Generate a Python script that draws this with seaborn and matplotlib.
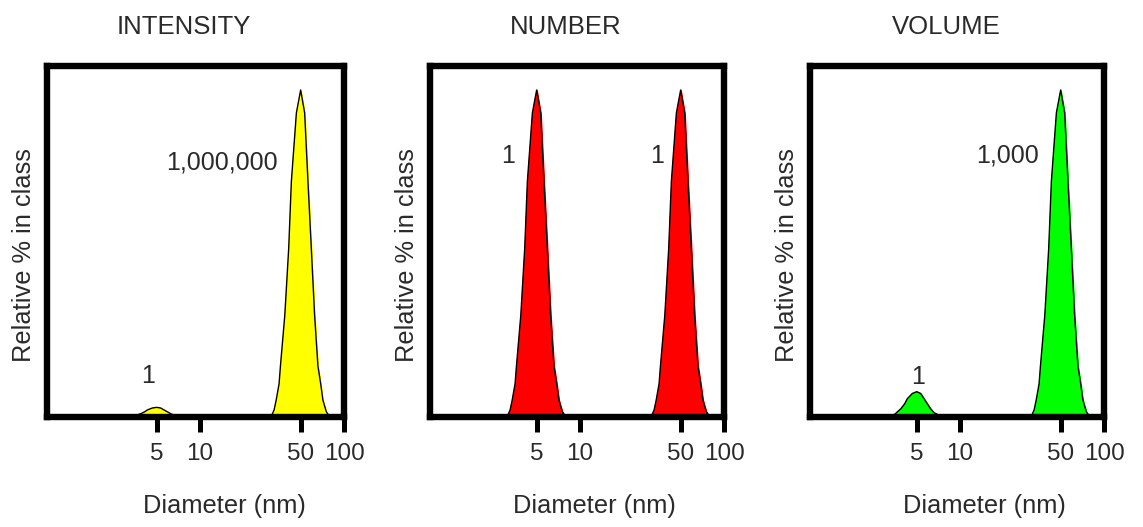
import matplotlib
matplotlib.use("Agg")
import matplotlib.pyplot as plt
import seaborn as sns
import pandas as pd

# size classes (nm), one set round 5 nm and one round 50 nm
d_small = [3.12, 3.27, 3.38, 3.54, 3.62, 3.88, 4.13, 4.31, 4.67, 5.0,
           5.33, 5.62, 5.93, 6.25, 6.59, 6.89, 7.14, 7.53, 7.92]
d_large = [31.2, 32.7, 33.8, 35.4, 36.2, 38.8, 41.3, 43.1, 46.7, 50.0,
           53.3, 56.2, 59.3, 62.5, 65.9, 68.9, 71.4, 75.3, 79.2]
# peak profile (fraction of the tallest class)
profile = [0, 0.02, 0.05, 0.10, 0.155, 0.31, 0.515, 0.72, 0.93, 1.0,
           0.93, 0.72, 0.515, 0.31, 0.155, 0.10, 0.05, 0.015, 0]

titles = ["INTENSITY", "NUMBER", "VOLUME"]
colors = ["#ffff00", "#ff0000", "#00ff00"]
# height of the 5 nm peak and the 50 nm peak in each panel
peak_heights = [[0.028, 1.0], [1.0, 1.0], [0.076, 1.0]]
ratio_labels = [["1", "1,000,000"], ["1", "1"], ["1", "1,000"]]
tick_vals = [5, 10, 50, 100]
tick_labels = ["5", "10", "50", "100"]

sns.set_style("white")
plt.rcParams['font.family'] = ['Liberation Sans', 'DejaVu Sans']
txt = "#2a2a2a"

fig = plt.figure(figsize=(11.43, 5.27), dpi=100)
W, H = 1143, 527
# axes boxes in pixels: left, width
boxes = [(46.5, 297.5), (430, 294), (810, 294)]
top_px, bot_px = 66.5, 416.5
# label spots (axes fraction) for ratio numbers
ratio_pos = [[(0.341, 0.096), (0.590, 0.707)],
             [(0.265, 0.723), (0.772, 0.723)],
             [(0.367, 0.093), (0.673, 0.726)]]
xlab_x = [0.597, 0.558, 0.592]

for i in range(3):
    left, width = boxes[i]
    ax = fig.add_axes([left / W, (H - bot_px) / H, width / W, (bot_px - top_px) / H])
    ax.set_xscale('log')

    for j, d in enumerate([d_small, d_large]):
        pct = [p * peak_heights[i][j] for p in profile]
        df = pd.DataFrame({'Diameter': d, 'Percent': pct})
        ax.fill_between(df['Diameter'], df['Percent'], 0, color=colors[i], zorder=2)
        sns.lineplot(data=df, x='Diameter', y='Percent', color='black', lw=1,
                     ax=ax, sort=False, estimator=None, zorder=3)
        tx, ty = ratio_pos[i][j]
        ax.text(tx, ty, ratio_labels[i][j], transform=ax.transAxes, ha='center',
                va='baseline', fontsize=18, color=txt)

    ax.set_xlim(10 ** (2 - width / 144), 100)
    ax.set_ylim(0, 1.072)
    ax.set_xticks(tick_vals)
    ax.set_xticklabels(tick_labels)
    ax.xaxis.set_minor_locator(matplotlib.ticker.NullLocator())
    ax.set_yticks([])
    ax.tick_params(axis='x', direction='out', length=11, width=3.6, color='black',
                   pad=8, labelsize=17.5, labelcolor=txt, bottom=True)
    for s in ax.spines.values():
        s.set_visible(True)
        s.set_color('black')
        s.set_linewidth(4.6)
        s.set_zorder(5)
    ax.set_xlabel('')
    ax.set_ylabel('')

    ax.text(0.462, 1.092, titles[i], transform=ax.transAxes, ha='center',
            va='baseline', fontsize=18.5, color=txt)
    ax.text(xlab_x[i], -0.276, 'Diameter (nm)', transform=ax.transAxes,
            ha='center', va='baseline', fontsize=18.3, color=txt)
    ax.text(-22.5 / width, 0.461, 'Relative % in class', transform=ax.transAxes,
            rotation=90, ha='center', va='center', fontsize=18.3, color=txt)

fig.savefig('out.png', dpi=100)
